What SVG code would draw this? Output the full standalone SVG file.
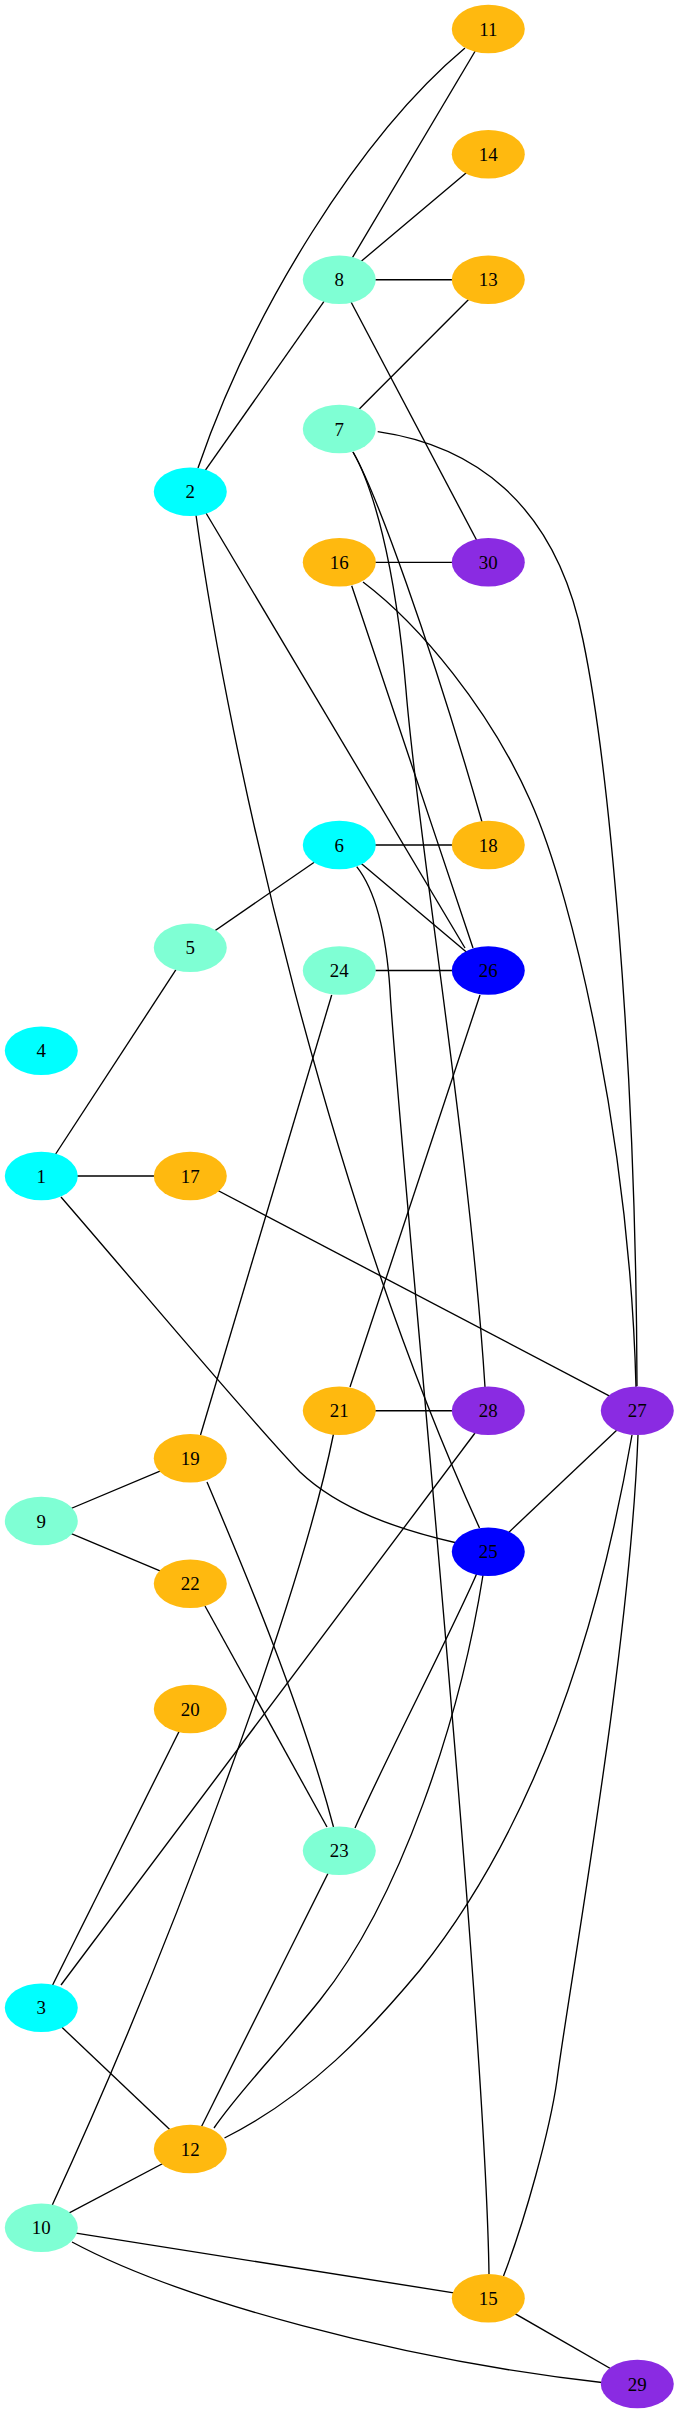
<svg xmlns="http://www.w3.org/2000/svg" width="680" height="2415" viewBox="0 0 680 2415">
<style>
.e{fill:none;stroke:#000;stroke-width:1.35}
.n text{font-family:"Liberation Serif","Times New Roman",serif;font-size:18.9px;text-anchor:middle;fill:#000}
.cy{fill:#00ffff}.aq{fill:#7fffd4}.go{fill:#ffb90f}.bl{fill:#0000ff}.bv{fill:#8a2be2}
</style>
<rect width="680" height="2415" fill="#fff"/>
<g id="edges">
<path class="e" d="M465,48 C360,136 252,310 198,468"/>
<path class="e" d="M488.3,29 L339.3,279.7"/>
<path class="e" d="M488.3,154.3 L339.3,279.7"/>
<path class="e" d="M339.3,279.7 L488.3,279.7"/>
<path class="e" d="M339.3,279.7 L190.3,491.7"/>
<path class="e" d="M339.3,279.7 L488.3,562.3"/>
<path class="e" d="M488.3,279.7 L339.3,429"/>
<path class="e" d="M377.7,431.7 C470,445 555,500 583,640 C608,760 636,1050 637,1386"/>
<path class="e" d="M353,452 C375,490 430,640 482,822"/>
<path class="e" d="M353,452 C372,485 395,560 406,690 C418,840 470,1150 485,1387"/>
<path class="e" d="M206,513 L465,948"/>
<path class="e" d="M196,515 C230,760 330,1200 479.5,1528"/>
<path class="e" d="M339.3,562.3 L488.3,562.3"/>
<path class="e" d="M351.7,585.7 C370,640 430,820 473,948"/>
<path class="e" d="M363,582 C420,625 490,710 530,800 C575,900 630,1150 636,1387"/>
<path class="e" d="M339.3,845 L488.3,845"/>
<path class="e" d="M339.3,845 L488.3,970.5"/>
<path class="e" d="M339.3,845 L190.3,947.7"/>
<path class="e" d="M356.7,866.7 C375,890 386,930 390,990 C395,1100 485,2000 489,2274"/>
<path class="e" d="M339.3,970.5 L488.3,970.5"/>
<path class="e" d="M331.7,995 L200.5,1435"/>
<path class="e" d="M190.3,947.7 L41.3,1176"/>
<path class="e" d="M41.3,1176 L190.3,1176"/>
<path class="e" d="M61,1197 C150,1300 250,1420 300,1472 C340,1510 400,1530 457,1543"/>
<path class="e" d="M190.3,1176 L637.3,1410.7"/>
<path class="e" d="M339.3,1410.7 L488.3,1410.7"/>
<path class="e" d="M480,995 L350,1387"/>
<path class="e" d="M333.5,1434 C300,1600 170,1950 52.3,2205"/>
<path class="e" d="M475,1433 L61,1985"/>
<path class="e" d="M637.3,1410.7 L488.3,1551.7"/>
<path class="e" d="M632,1435 C600,1620 540,1820 420,1970 C370,2030 310,2095 224.5,2138"/>
<path class="e" d="M638,1435 C630,1650 570,1980 557,2080 C550,2130 525,2220 503.5,2276"/>
<path class="e" d="M190.3,1458.3 L41.3,1521"/>
<path class="e" d="M207,1482 C240,1560 300,1700 333.5,1827"/>
<path class="e" d="M41.3,1521 L190.3,1583.7"/>
<path class="e" d="M205,1606 L327,1827"/>
<path class="e" d="M477,1573 C455,1625 385,1760 355,1828"/>
<path class="e" d="M483,1575 C460,1720 400,1900 320,2000 C280,2050 240,2090 214,2128"/>
<path class="e" d="M190.3,1709 L41.3,2007.7"/>
<path class="e" d="M339.3,1850.7 L190.3,2149"/>
<path class="e" d="M41.3,2007.7 L190.3,2149"/>
<path class="e" d="M190.3,2149 L41.3,2227.7"/>
<path class="e" d="M41.3,2227.7 L488.3,2298.3"/>
<path class="e" d="M72,2242 C180,2300 400,2360 606,2383"/>
<path class="e" d="M488.3,2298.3 L637.3,2384"/>
</g>
<g id="n11" class="n"><ellipse class="go" cx="488.3" cy="29" rx="36.5" ry="24.3"/><text x="488.3" y="35.5">11</text></g>
<g id="n14" class="n"><ellipse class="go" cx="488.3" cy="154.3" rx="36.5" ry="24.3"/><text x="488.3" y="160.8">14</text></g>
<g id="n8" class="n"><ellipse class="aq" cx="339.3" cy="279.7" rx="36.5" ry="24.3"/><text x="339.3" y="286.2">8</text></g>
<g id="n13" class="n"><ellipse class="go" cx="488.3" cy="279.7" rx="36.5" ry="24.3"/><text x="488.3" y="286.2">13</text></g>
<g id="n7" class="n"><ellipse class="aq" cx="339.3" cy="429" rx="36.5" ry="24.3"/><text x="339.3" y="435.5">7</text></g>
<g id="n2" class="n"><ellipse class="cy" cx="190.3" cy="491.7" rx="36.5" ry="24.3"/><text x="190.3" y="498.2">2</text></g>
<g id="n16" class="n"><ellipse class="go" cx="339.3" cy="562.3" rx="36.5" ry="24.3"/><text x="339.3" y="568.8">16</text></g>
<g id="n30" class="n"><ellipse class="bv" cx="488.3" cy="562.3" rx="36.5" ry="24.3"/><text x="488.3" y="568.8">30</text></g>
<g id="n6" class="n"><ellipse class="cy" cx="339.3" cy="845" rx="36.5" ry="24.3"/><text x="339.3" y="851.5">6</text></g>
<g id="n18" class="n"><ellipse class="go" cx="488.3" cy="845" rx="36.5" ry="24.3"/><text x="488.3" y="851.5">18</text></g>
<g id="n5" class="n"><ellipse class="aq" cx="190.3" cy="947.7" rx="36.5" ry="24.3"/><text x="190.3" y="954.2">5</text></g>
<g id="n24" class="n"><ellipse class="aq" cx="339.3" cy="970.5" rx="36.5" ry="24.3"/><text x="339.3" y="977">24</text></g>
<g id="n26" class="n"><ellipse class="bl" cx="488.3" cy="970.5" rx="36.5" ry="24.3"/><text x="488.3" y="977">26</text></g>
<g id="n4" class="n"><ellipse class="cy" cx="41.3" cy="1050.7" rx="36.5" ry="24.3"/><text x="41.3" y="1057.2">4</text></g>
<g id="n1" class="n"><ellipse class="cy" cx="41.3" cy="1176" rx="36.5" ry="24.3"/><text x="41.3" y="1182.5">1</text></g>
<g id="n17" class="n"><ellipse class="go" cx="190.3" cy="1176" rx="36.5" ry="24.3"/><text x="190.3" y="1182.5">17</text></g>
<g id="n21" class="n"><ellipse class="go" cx="339.3" cy="1410.7" rx="36.5" ry="24.3"/><text x="339.3" y="1417.2">21</text></g>
<g id="n28" class="n"><ellipse class="bv" cx="488.3" cy="1410.7" rx="36.5" ry="24.3"/><text x="488.3" y="1417.2">28</text></g>
<g id="n27" class="n"><ellipse class="bv" cx="637.3" cy="1410.7" rx="36.5" ry="24.3"/><text x="637.3" y="1417.2">27</text></g>
<g id="n19" class="n"><ellipse class="go" cx="190.3" cy="1458.3" rx="36.5" ry="24.3"/><text x="190.3" y="1464.8">19</text></g>
<g id="n9" class="n"><ellipse class="aq" cx="41.3" cy="1521" rx="36.5" ry="24.3"/><text x="41.3" y="1527.5">9</text></g>
<g id="n25" class="n"><ellipse class="bl" cx="488.3" cy="1551.7" rx="36.5" ry="24.3"/><text x="488.3" y="1558.2">25</text></g>
<g id="n22" class="n"><ellipse class="go" cx="190.3" cy="1583.7" rx="36.5" ry="24.3"/><text x="190.3" y="1590.2">22</text></g>
<g id="n20" class="n"><ellipse class="go" cx="190.3" cy="1709" rx="36.5" ry="24.3"/><text x="190.3" y="1715.5">20</text></g>
<g id="n23" class="n"><ellipse class="aq" cx="339.3" cy="1850.7" rx="36.5" ry="24.3"/><text x="339.3" y="1857.2">23</text></g>
<g id="n3" class="n"><ellipse class="cy" cx="41.3" cy="2007.7" rx="36.5" ry="24.3"/><text x="41.3" y="2014.2">3</text></g>
<g id="n12" class="n"><ellipse class="go" cx="190.3" cy="2149" rx="36.5" ry="24.3"/><text x="190.3" y="2155.5">12</text></g>
<g id="n10" class="n"><ellipse class="aq" cx="41.3" cy="2227.7" rx="36.5" ry="24.3"/><text x="41.3" y="2234.2">10</text></g>
<g id="n15" class="n"><ellipse class="go" cx="488.3" cy="2298.3" rx="36.5" ry="24.3"/><text x="488.3" y="2304.8">15</text></g>
<g id="n29" class="n"><ellipse class="bv" cx="637.3" cy="2384" rx="36.5" ry="24.3"/><text x="637.3" y="2390.5">29</text></g>
</svg>
